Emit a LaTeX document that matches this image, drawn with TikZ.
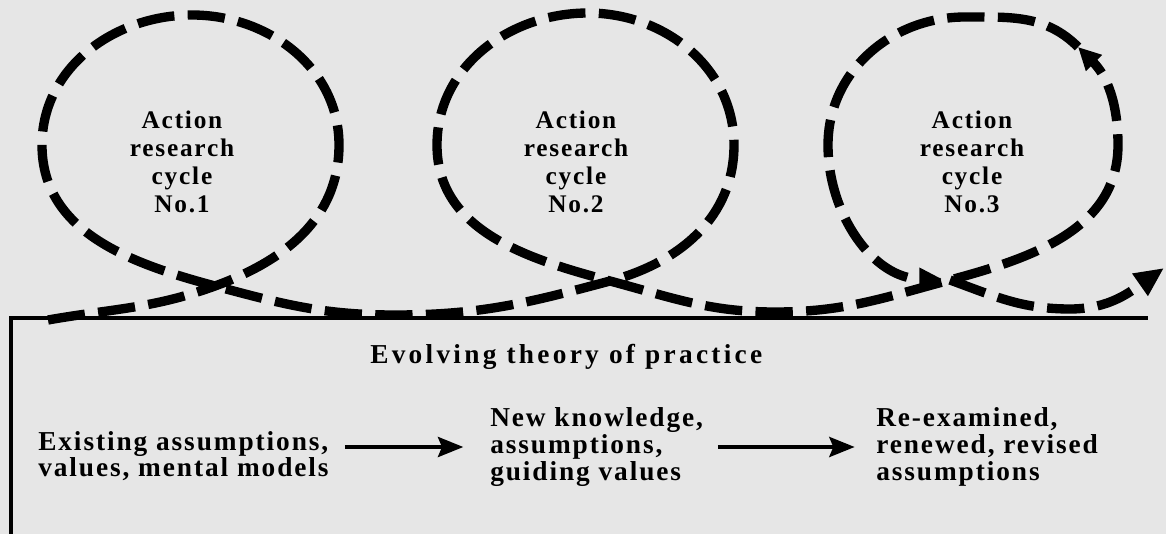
\documentclass[tikz,border=0pt]{standalone}
\usepackage{fontspec}
\setmainfont{Liberation Serif}
\newfontfamily\cycfont[LetterSpace=7]{Liberation Serif}
\newfontfamily\botfont[LetterSpace=7]{Liberation Serif}
\newfontfamily\evfont[LetterSpace=12]{Liberation Serif}
\usetikzlibrary{arrows.meta}
\definecolor{bg}{RGB}{230,230,230}
\tikzset{
  loopline/.style={line width=7pt, dash pattern=on 28pt off 10pt, line cap=butt},
  looptip/.style={-{Triangle[length=17pt,width=16pt]}},
  endtip/.style={-{Triangle[length=22pt,width=19pt]}},
  boxline/.style={line width=2.4pt},
  cyc/.style={inner sep=0pt, align=center, font=\cycfont\bfseries\fontsize{19}{21}\selectfont},
  bot/.style={inner sep=0pt, align=left, font=\botfont\bfseries\fontsize{20.5}{20}\selectfont},
  evo/.style={inner sep=0pt, font=\evfont\bfseries\fontsize{20.5}{20}\selectfont},
  txtarrow/.style={line width=3pt, -{Stealth[length=19pt,width=15pt,inset=3pt]}}
}
\begin{document}
\begin{tikzpicture}[x=0.75pt,y=0.75pt]
\fill[bg] (0,0) rectangle (1166,-534);
\useasboundingbox (0,0) rectangle (1166,-534);
% box
\coordinate (bl) at (11,-534);
\coordinate (tl) at (11,-318);
\coordinate (tr) at (1148,-318);
\draw[boxline] (bl) -- (tl) -- (tr);
% loop path points
\coordinate (s) at (48,-320);
\coordinate (x1) at (215,-286);
\coordinate (r1) at (339,-145);
\coordinate (t1) at (192,-15);
\coordinate (l1) at (42,-145);
\coordinate (m1) at (395,-315);
\coordinate (x2) at (610,-281);
\coordinate (r2) at (734,-145);
\coordinate (t2) at (588,-13);
\coordinate (l2) at (437,-145);
\coordinate (m2) at (775,-312);
\coordinate (x3) at (950,-280);
\coordinate (r3) at (1118,-145);
\coordinate (a3) at (1078,-47);
\coordinate (t3) at (965,-17);
\coordinate (l3) at (828,-145);
\coordinate (b3) at (942,-279);
\coordinate (m3) at (1070,-309);
\coordinate (e) at (1164,-268);
\draw[loopline,looptip] (s) to[out=10,in=200] (x1) to[out=20,in=-90] (r1)
  to[out=90,in=0] (t1) to[out=180,in=90] (l1) to[out=-90,in=165] (x1)
  to[out=-15,in=180] (m1) to[out=0,in=195] (x2) to[out=15,in=-90] (r2)
  to[out=90,in=0] (t2) to[out=180,in=90] (l2) to[out=-90,in=165] (x2)
  to[out=-15,in=180] (m2) to[out=0,in=195] (x3) to[out=15,in=-90] (r3)
  to[out=90,in=-45] (a3);
\draw[loopline,looptip] (a3) to[out=135,in=0] (t3) to[out=180,in=90] (l3)
  to[out=-90,in=180] (b3);
\draw[loopline,endtip] (x3) to[out=-20,in=180] (m3) to[out=0,in=215] (e);
% cycle labels
\node[cyc] (c1) at (182,-162) {Action\\research\\cycle\\No.1};
\node[cyc] (c2) at (576,-162) {Action\\research\\cycle\\No.2};
\node[cyc] (c3) at (972,-162) {Action\\research\\cycle\\No.3};
% bottom texts
\node[evo, anchor=base west] (ev) at (370,-363) {Evolving theory of practice};
\node[bot, anchor=west] (lt) at (38,-456) {Existing assumptions,\\values, mental models};
\node[bot, anchor=west] (mt) at (490,-447) {New knowledge,\\assumptions,\\guiding values};
\node[bot, anchor=west] (rt) at (876,-447) {Re-examined,\\renewed, revised\\assumptions};
\draw[txtarrow, shorten <=12pt, shorten >=20pt] (lt.east |- mt.west) -- (mt.west);
\draw[txtarrow, shorten <=11pt, shorten >=16pt] (mt.east |- rt.west) -- (rt.west);
\end{tikzpicture}
\end{document}
